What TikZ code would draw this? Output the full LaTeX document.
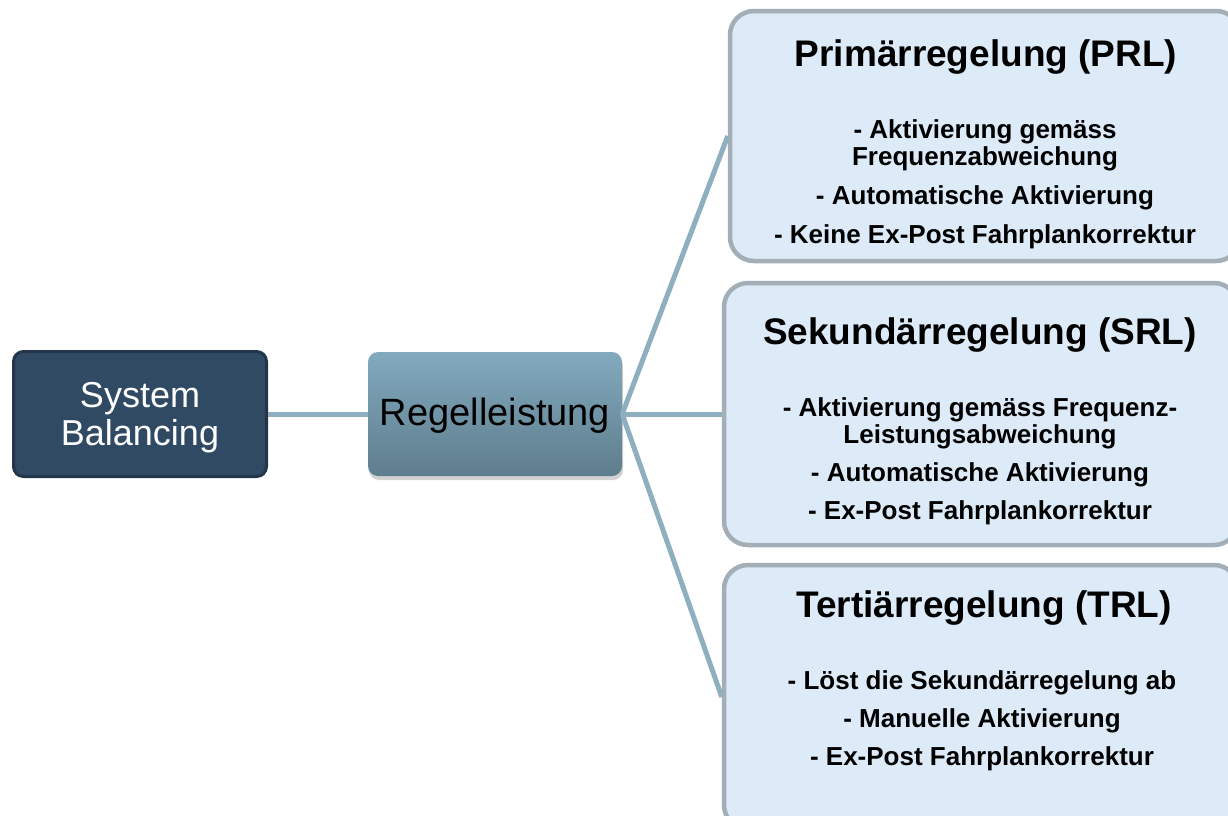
\documentclass[tikz,border=0pt]{standalone}
\usepackage{fontspec}
\setmainfont{Liberation Sans}
\usetikzlibrary{shadows}
\definecolor{sbfill}{HTML}{304A64}
\definecolor{sbdraw}{HTML}{22354A}
\definecolor{rgtop}{HTML}{82AABE}
\definecolor{rgbot}{HTML}{5E7D8D}
\definecolor{linec}{HTML}{8FAFC0}
\definecolor{boxfill}{HTML}{DDEBF8}
\definecolor{boxdraw}{HTML}{A3AEB6}
\tikzset{
  sbbox/.style={rectangle, rounded corners=10pt, fill=sbfill, draw=sbdraw, line width=3pt,
    minimum width=253pt, minimum height=125pt, text=white, align=center,
    font=\fontsize{36}{38}\selectfont},
  rgbox/.style={rectangle, rounded corners=10pt, top color=rgtop, bottom color=rgbot, draw=none,
    minimum width=254pt, minimum height=124pt, text=black, font=\fontsize{38}{40}\selectfont,
    drop shadow={shadow xshift=1pt, shadow yshift=-4pt, opacity=0.35}},
  infobox/.style={rectangle, rounded corners=24pt, fill=boxfill, draw=boxdraw, line width=4.5pt},
  conn/.style={draw=linec, line width=5pt},
  ttl/.style={font=\fontsize{37}{40}\selectfont\bfseries, text height=27pt, text depth=8pt, inner sep=0pt},
  itm/.style={font=\fontsize{26}{28}\selectfont\bfseries, text height=19pt, text depth=6pt, inner sep=0pt},
}
\begin{document}
\begin{tikzpicture}[x=1pt,y=-1pt]
\useasboundingbox (0,0) rectangle (1228,815);
\clip (0,0) rectangle (1228,815);
\fill[white] (0,0) rectangle (1228,815);

\node[infobox, minimum width=510pt, minimum height=250pt] (prl) at (985,136) {};
\node[infobox, minimum width=514pt, minimum height=262pt] (srl) at (981,414) {};
\node[infobox, minimum width=514pt, minimum height=264pt] (trl) at (981,697) {};

\node[sbbox] (sb) at (140,414) {};
\node[rgbox] (rg) at (495,414) {};
\node[text=white, align=center, font=\fontsize{36}{38}\selectfont] (sbt) at (140,418) {System\\Balancing};
\node[font=\fontsize{38}{40}\selectfont] (rgt) at (495,416) {Regelleistung};

\draw[conn] (sb.east) -- (rg.west);
\draw[conn] (rg.east) -- (prl.west);
\draw[conn] (rg.east) -- (srl.west);
\draw[conn] (rg.east) -- (trl.west);

\node[ttl] (prlt) at (986,57) {Primärregelung (PRL)};
\node[itm] (p1) at (985,132) {- Aktivierung gemäss};
\node[itm] (p2) at (985,159) {Frequenzabweichung};
\node[itm] (p3) at (985,198) {- Automatische Aktivierung};
\node[itm] (p4) at (985,237) {- Keine Ex-Post Fahrplankorrektur};

\node[ttl] (srlt) at (980,335) {Sekundärregelung (SRL)};
\node[itm] (s1) at (980,410) {- Aktivierung gemäss Frequenz-};
\node[itm] (s2) at (980,437) {Leistungsabweichung};
\node[itm] (s3) at (980,475) {- Automatische Aktivierung};
\node[itm] (s4) at (980,513) {- Ex-Post Fahrplankorrektur};

\node[ttl] (trlt) at (984,608) {Tertiärregelung (TRL)};
\node[itm] (t1) at (982,683) {- Löst die Sekundärregelung ab};
\node[itm] (t2) at (982,721) {- Manuelle Aktivierung};
\node[itm] (t3) at (982,759) {- Ex-Post Fahrplankorrektur};
\end{tikzpicture}
\end{document}
